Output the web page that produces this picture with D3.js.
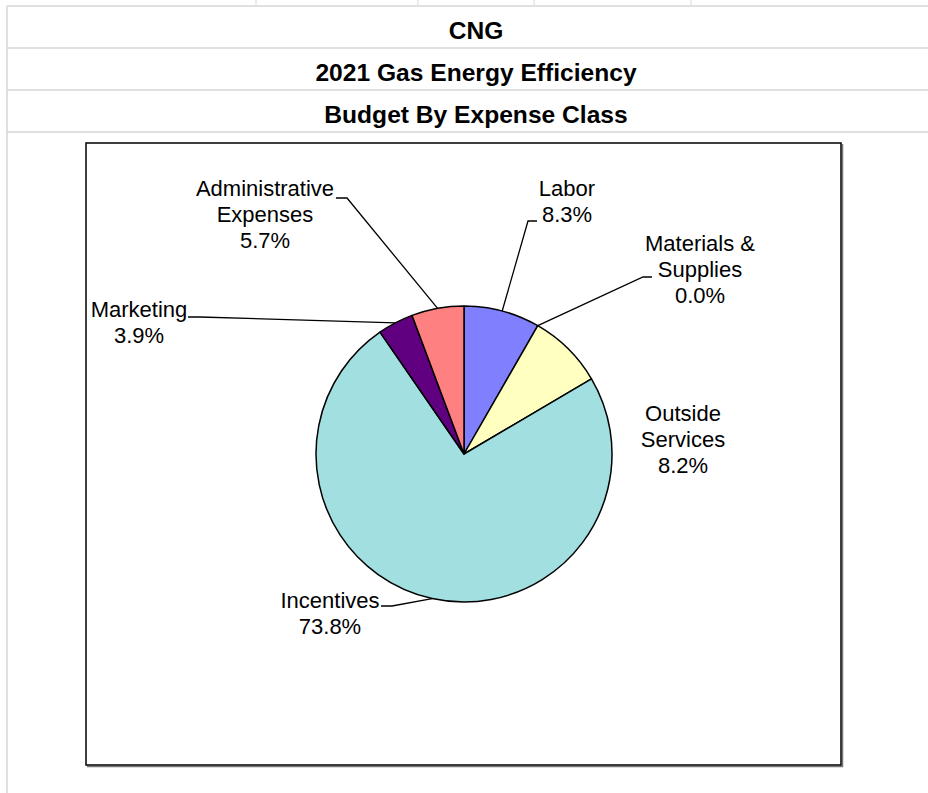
<!DOCTYPE html>
<html>
<head>
<meta charset="utf-8">
<script src="https://cdn.jsdelivr.net/npm/d3@7"></script>
<style>
  html, body { margin: 0; padding: 0; background: #fff; }
  svg { display: block; }
</style>
</head>
<body>
<div id="chart"></div>
<script>
// ---------- data ----------
const titles = ["CNG", "2021 Gas Energy Efficiency", "Budget By Expense Class"];
const categories = ["Labor", "Materials & Supplies", "Outside Services", "Incentives", "Marketing", "Administrative Expenses"];
const values = [8.3, 0.0, 8.2, 73.8, 3.9, 5.7];
const labelLines = [["Labor"], ["Materials &", "Supplies"], ["Outside", "Services"], ["Incentives"], ["Marketing"], ["Administrative", "Expenses"]];
const colors = ["#8080FF", "#FFFFC0", "#FFFFC0", "#A2DFE0", "#600080", "#FF8080"];

// ---------- layout ----------
const W = 928, H = 793;
const gridY = [6, 48, 90, 132];
const topTicks = [256, 418, 534, 691];
const box = {x: 86, y: 143, w: 755, h: 622};
const pieC = {x: 464, y: 454}, R = 148;
const labelFont = 22, lineH = 26;
// label anchor: centre x, first baseline y, leader elbow (stub) points or null
const labelPos = [
  {x: 567, y: 196, stub: [[537, 221], [528, 221]]},
  {x: 700, y: 251, stub: [[652, 277], [643, 277]]},
  {x: 683, y: 421, stub: null},
  {x: 330, y: 608, stub: [[381, 606], [392, 606]]},
  {x: 139, y: 317, stub: [[188, 317], [200, 317]]},
  {x: 265, y: 196, stub: [[336, 198], [347, 198]]}
];

const svg = d3.select("#chart").append("svg")
  .attr("width", W).attr("height", H)
  .style("font-family", "Liberation Sans, Arial, sans-serif");

// spreadsheet grid
const grid = svg.append("g").attr("stroke", "#d6d6d6").attr("stroke-width", 1.5);
grid.selectAll("line.h").data(gridY).join("line")
  .attr("x1", 7).attr("x2", W).attr("y1", d => d).attr("y2", d => d);
grid.append("line").attr("x1", 7).attr("x2", 7).attr("y1", gridY[0]).attr("y2", H);
grid.selectAll("line.t").data(topTicks).join("line")
  .attr("x1", d => d).attr("x2", d => d).attr("y1", 0).attr("y2", gridY[0])
  .attr("stroke", "#e6e6e6");

// titles
svg.selectAll("text.title").data(titles).join("text")
  .attr("class", "title")
  .attr("transform", (d, i) => `translate(476,${gridY[i] + 33}) scale(1.07,1)`)
  .attr("text-anchor", "middle")
  .attr("font-weight", "bold")
  .attr("font-size", 23)
  .attr("fill", "#000")
  .text(d => d);

// chart box with shadow
svg.append("path")
  .attr("d", `M${box.x + 1},${box.y + box.h + 1.5} H${box.x + box.w + 1.5} V${box.y + 1}`)
  .attr("fill", "none").attr("stroke", "#777").attr("stroke-width", 1.5);
svg.append("rect")
  .attr("x", box.x).attr("y", box.y).attr("width", box.w).attr("height", box.h)
  .attr("fill", "#fff").attr("stroke", "#000").attr("stroke-width", 1.5);

// pie
const pie = d3.pie().sort(null).value(d => d.v);
const data = categories.map((c, i) => ({c, v: values[i], i}));
const arcs = pie(data);
const arc = d3.arc().innerRadius(0).outerRadius(R);
const edge = d3.arc().innerRadius(R).outerRadius(R);

const g = svg.append("g").attr("transform", `translate(${pieC.x},${pieC.y})`);
g.selectAll("path").data(arcs.filter(a => a.data.v > 0)).join("path")
  .attr("d", arc)
  .attr("fill", d => colors[d.data.i])
  .attr("stroke", "#000").attr("stroke-width", 1.5).attr("stroke-linejoin", "round");

// leader lines
arcs.forEach((a, i) => {
  const lp = labelPos[i];
  if (!lp.stub) return;
  const c = edge.centroid(a);
  const pts = [lp.stub[0], lp.stub[1], [pieC.x + c[0], pieC.y + c[1]]];
  svg.append("path")
    .attr("d", d3.line()(pts))
    .attr("fill", "none").attr("stroke", "#000").attr("stroke-width", 1.3);
});

// labels
const fmt = d3.format(".1f");
arcs.forEach((a, i) => {
  const lp = labelPos[i];
  const lines = labelLines[i].concat([fmt(values[i]) + "%"]);
  const t = svg.append("text")
    .attr("text-anchor", "middle")
    .attr("font-size", labelFont)
    .attr("fill", "#000");
  lines.forEach((ln, k) => {
    t.append("tspan").attr("x", lp.x).attr("y", lp.y + k * lineH).text(ln);
  });
});
</script>
</body>
</html>
